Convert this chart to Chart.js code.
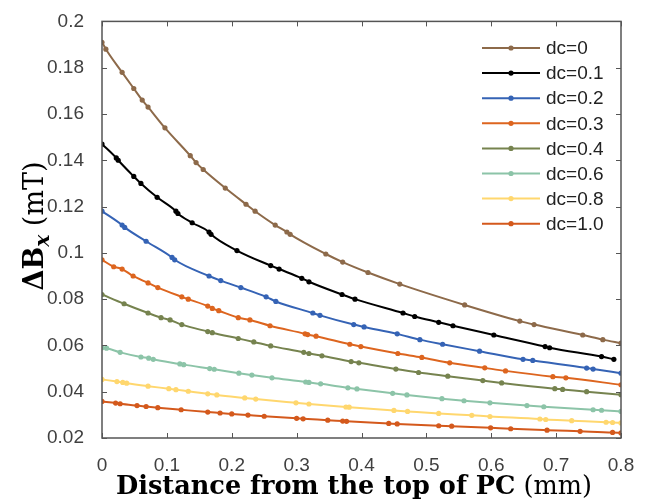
<!DOCTYPE html>
<html>
<head>
<meta charset="utf-8">
<script src="https://cdn.jsdelivr.net/npm/chart.js"></script>
<style>
  html, body { margin: 0; padding: 0; background: #fff; }
  #wrap { width: 646px; height: 501px; }
</style>
</head>
<body>
<div id="wrap"><canvas id="chart" width="646" height="501"></canvas></div>
<script>
// values (distance in mm, dBx in mT)
const labels = ['dc=0', 'dc=0.1', 'dc=0.2', 'dc=0.3', 'dc=0.4', 'dc=0.6', 'dc=0.8', 'dc=1.0'];
const colors = ['#8d6a4a', '#000000', '#3563b5', '#dd651f', '#76834f', '#8cc4a8', '#ffd76e', '#d4591c'];

const x_dc0 = [0, 0.006, 0.031, 0.049, 0.062, 0.071, 0.097, 0.136, 0.145, 0.156, 0.19, 0.222, 0.236, 0.267, 0.285, 0.29, 0.345, 0.371, 0.41, 0.459, 0.559, 0.644, 0.666, 0.741, 0.772, 0.8];
const y_dc0 = [0.191, 0.188, 0.178, 0.171, 0.166, 0.163, 0.154, 0.142, 0.139, 0.136, 0.128, 0.121, 0.118, 0.112, 0.109, 0.108, 0.0995, 0.096, 0.0915, 0.0865, 0.0775, 0.0705, 0.069, 0.0645, 0.0625, 0.061];

const x_dc01 = [0, 0.022, 0.025, 0.049, 0.060, 0.085, 0.114, 0.117, 0.139, 0.165, 0.168, 0.208, 0.260, 0.273, 0.308, 0.319, 0.370, 0.390, 0.464, 0.482, 0.519, 0.541, 0.604, 0.683, 0.690, 0.770, 0.789];
const y_dc01 = [0.147, 0.141, 0.140, 0.133, 0.130, 0.124, 0.118, 0.117, 0.113, 0.109, 0.108, 0.101, 0.0945, 0.093, 0.089, 0.0875, 0.082, 0.080, 0.074, 0.0725, 0.070, 0.0685, 0.0645, 0.0595, 0.059, 0.0552, 0.054];

const x_dc02 = [0, 0.031, 0.035, 0.068, 0.108, 0.112, 0.165, 0.183, 0.214, 0.253, 0.268, 0.325, 0.336, 0.388, 0.404, 0.455, 0.490, 0.525, 0.582, 0.649, 0.664, 0.747, 0.757, 0.8];
const y_dc02 = [0.118, 0.112, 0.111, 0.105, 0.098, 0.097, 0.090, 0.088, 0.085, 0.081, 0.079, 0.074, 0.073, 0.069, 0.068, 0.065, 0.0625, 0.0605, 0.0575, 0.054, 0.0535, 0.0502, 0.0498, 0.048];

const x_dc03 = [0, 0.018, 0.031, 0.048, 0.071, 0.086, 0.123, 0.133, 0.163, 0.170, 0.180, 0.210, 0.228, 0.259, 0.313, 0.317, 0.330, 0.382, 0.399, 0.456, 0.493, 0.536, 0.590, 0.622, 0.695, 0.715, 0.8];
const y_dc03 = [0.097, 0.094, 0.093, 0.090, 0.087, 0.085, 0.081, 0.080, 0.077, 0.076, 0.075, 0.072, 0.071, 0.0685, 0.065, 0.0647, 0.064, 0.0605, 0.0595, 0.0565, 0.0548, 0.0525, 0.0503, 0.049, 0.0465, 0.046, 0.043];

const x_dc04 = [0, 0.034, 0.071, 0.091, 0.105, 0.123, 0.163, 0.170, 0.210, 0.234, 0.260, 0.311, 0.319, 0.339, 0.384, 0.396, 0.453, 0.488, 0.533, 0.587, 0.616, 0.698, 0.710, 0.747, 0.8];
const y_dc04 = [0.082, 0.078, 0.074, 0.072, 0.071, 0.069, 0.066, 0.0655, 0.063, 0.0615, 0.0598, 0.057, 0.0565, 0.0555, 0.053, 0.0525, 0.0498, 0.0483, 0.0467, 0.0448, 0.0438, 0.0413, 0.041, 0.040, 0.0387];

const x_dc06 = [0, 0.007, 0.028, 0.060, 0.072, 0.079, 0.120, 0.126, 0.166, 0.173, 0.211, 0.231, 0.262, 0.314, 0.319, 0.337, 0.379, 0.393, 0.448, 0.470, 0.524, 0.558, 0.598, 0.655, 0.681, 0.757, 0.770, 0.8];
const y_dc06 = [0.059, 0.0588, 0.057, 0.055, 0.0545, 0.054, 0.052, 0.0517, 0.050, 0.0497, 0.048, 0.0472, 0.046, 0.0442, 0.044, 0.0434, 0.0417, 0.0412, 0.0393, 0.0386, 0.0370, 0.0361, 0.0352, 0.034, 0.0335, 0.0322, 0.032, 0.0315];

const x_dc08 = [0, 0.023, 0.032, 0.038, 0.071, 0.103, 0.114, 0.133, 0.163, 0.177, 0.220, 0.237, 0.299, 0.319, 0.376, 0.381, 0.450, 0.471, 0.519, 0.570, 0.598, 0.675, 0.684, 0.724, 0.777, 0.787, 0.8];
const y_dc08 = [0.0453, 0.0444, 0.0440, 0.0437, 0.0424, 0.0413, 0.0409, 0.0402, 0.0391, 0.0386, 0.0373, 0.0368, 0.0352, 0.0347, 0.0334, 0.0333, 0.0319, 0.0315, 0.0306, 0.0298, 0.0293, 0.0282, 0.0280, 0.0275, 0.0268, 0.0267, 0.0265];

const x_dc10 = [0, 0.021, 0.028, 0.054, 0.068, 0.086, 0.122, 0.163, 0.182, 0.200, 0.225, 0.250, 0.300, 0.310, 0.348, 0.371, 0.377, 0.442, 0.455, 0.519, 0.539, 0.599, 0.630, 0.686, 0.737, 0.787, 0.8];
const y_dc10 = [0.0358, 0.0351, 0.0348, 0.0340, 0.0336, 0.0331, 0.0322, 0.0312, 0.0308, 0.0304, 0.0299, 0.0294, 0.0285, 0.0283, 0.0277, 0.0273, 0.0272, 0.0263, 0.0261, 0.0253, 0.0251, 0.0244, 0.0240, 0.0234, 0.0229, 0.0224, 0.0222];

const xTicks = [0, 0.1, 0.2, 0.3, 0.4, 0.5, 0.6, 0.7, 0.8];
const yTicks = [0.02, 0.04, 0.06, 0.08, 0.1, 0.12, 0.14, 0.16, 0.18, 0.2];

const seriesX = [x_dc0, x_dc01, x_dc02, x_dc03, x_dc04, x_dc06, x_dc08, x_dc10];
const seriesY = [y_dc0, y_dc01, y_dc02, y_dc03, y_dc04, y_dc06, y_dc08, y_dc10];

const datasets = labels.map((lab, i) => ({
  label: lab,
  data: seriesX[i].map((x, j) => ({ x: x, y: seriesY[i][j] })),
  borderColor: colors[i],
  backgroundColor: colors[i],
  borderWidth: 2,
  pointRadius: 2.6,
  pointHoverRadius: 2.6,
  pointBorderWidth: 0,
  cubicInterpolationMode: 'monotone'
}));

const fmt = v => String(Number(v.toFixed(2)));

// frame box, inward ticks, custom legend and axis titles
const decor = {
  id: 'decor',
  afterDraw(chart) {
    const ctx = chart.ctx;
    const a = chart.chartArea;
    const xs = chart.scales.x, ys = chart.scales.y;
    ctx.save();
    ctx.strokeStyle = '#555';
    ctx.lineWidth = 1.5;
    ctx.strokeRect(a.left, a.top, a.right - a.left, a.bottom - a.top);
    ctx.lineWidth = 1;
    ctx.beginPath();
    xTicks.forEach(v => {
      const px = Math.round(xs.getPixelForValue(v)) + 0.5;
      ctx.moveTo(px, a.bottom); ctx.lineTo(px, a.bottom - 5);
      ctx.moveTo(px, a.top); ctx.lineTo(px, a.top + 5);
    });
    yTicks.forEach(v => {
      const py = Math.round(ys.getPixelForValue(v)) + 0.5;
      ctx.moveTo(a.left, py); ctx.lineTo(a.left + 5, py);
      ctx.moveTo(a.right, py); ctx.lineTo(a.right - 5, py);
    });
    ctx.stroke();

    // legend
    ctx.font = '19px "Liberation Sans", Arial, sans-serif';
    ctx.textBaseline = 'middle';
    ctx.textAlign = 'left';
    labels.forEach((lab, i) => {
      const y = 48 + i * 25.1;
      ctx.strokeStyle = colors[i];
      ctx.lineWidth = 2;
      ctx.beginPath(); ctx.moveTo(482, y); ctx.lineTo(540, y); ctx.stroke();
      ctx.fillStyle = colors[i];
      ctx.beginPath(); ctx.arc(511, y, 2.6, 0, Math.PI * 2); ctx.fill();
      ctx.fillStyle = '#222';
      ctx.fillText(lab, 546, y + 1);
    });

    // x title: bold part + normal unit
    const serif = '"DejaVu Serif", "Liberation Serif", serif';
    const p1 = 'Distance from the top of PC', p2 = ' (mm)';
    let size = 28;
    ctx.font = 'bold ' + size + 'px ' + serif;
    let w1 = ctx.measureText(p1).width;
    ctx.font = size + 'px ' + serif;
    let w2 = ctx.measureText(p2).width;
    size = size * 476 / (w1 + w2);
    ctx.font = 'bold ' + size + 'px ' + serif;
    w1 = ctx.measureText(p1).width;
    ctx.font = size + 'px ' + serif;
    w2 = ctx.measureText(p2).width;
    let x0 = 354 - (w1 + w2) / 2;
    ctx.textBaseline = 'alphabetic';
    ctx.fillStyle = '#000';
    ctx.font = 'bold ' + size + 'px ' + serif;
    ctx.fillText(p1, x0, 494);
    ctx.font = size + 'px ' + serif;
    ctx.fillText(p2, x0 + w1, 494);

    // y title: ΔB with italic subscript x, then (mT)
    const ys1 = 'ΔB', ys2 = 'x', ys3 = ' (mT)';
    const fs = 27;
    ctx.font = 'bold ' + fs + 'px ' + serif;
    const a1 = ctx.measureText(ys1).width;
    ctx.font = 'italic bold ' + (fs * 0.75) + 'px ' + serif;
    const a2 = ctx.measureText(ys2).width;
    ctx.font = fs + 'px ' + serif;
    const a3 = ctx.measureText(ys3).width;
    const tot = a1 + a2 + a3;
    ctx.translate(43, 226);
    ctx.rotate(-Math.PI / 2);
    let sx = -tot / 2;
    ctx.font = 'bold ' + fs + 'px ' + serif;
    ctx.fillText(ys1, sx, 0);
    ctx.font = 'italic bold ' + (fs * 0.75) + 'px ' + serif;
    ctx.fillText(ys2, sx + a1, 6);
    ctx.font = fs + 'px ' + serif;
    ctx.fillText(ys3, sx + a1 + a2, 0);
    ctx.restore();
  }
};

new Chart(document.getElementById('chart'), {
  type: 'line',
  data: { datasets: datasets },
  plugins: [decor],
  options: {
    responsive: false,
    animation: false,
    layout: { padding: { left: 0, top: 18, right: 25, bottom: 0 } },
    plugins: {
      legend: { display: false },
      tooltip: { enabled: false }
    },
    scales: {
      x: {
        type: 'linear',
        min: 0, max: 0.8,
        afterFit: s => { s.height = 63; },
        afterBuildTicks: s => { s.ticks = xTicks.map(v => ({ value: v })); },
        grid: { display: false },
        border: { display: false },
        ticks: {
          padding: 8,
          color: '#404040',
          font: { family: '"Liberation Sans", Arial, sans-serif', size: 19 },
          callback: v => fmt(v)
        }
      },
      y: {
        type: 'linear',
        min: 0.02, max: 0.2,
        afterFit: s => { s.width = 102; },
        afterBuildTicks: s => { s.ticks = yTicks.map(v => ({ value: v })); },
        grid: { display: false },
        border: { display: false },
        ticks: {
          padding: 10,
          color: '#404040',
          font: { family: '"Liberation Sans", Arial, sans-serif', size: 19 },
          callback: v => fmt(v)
        }
      }
    }
  }
});
</script>
</body>
</html>
